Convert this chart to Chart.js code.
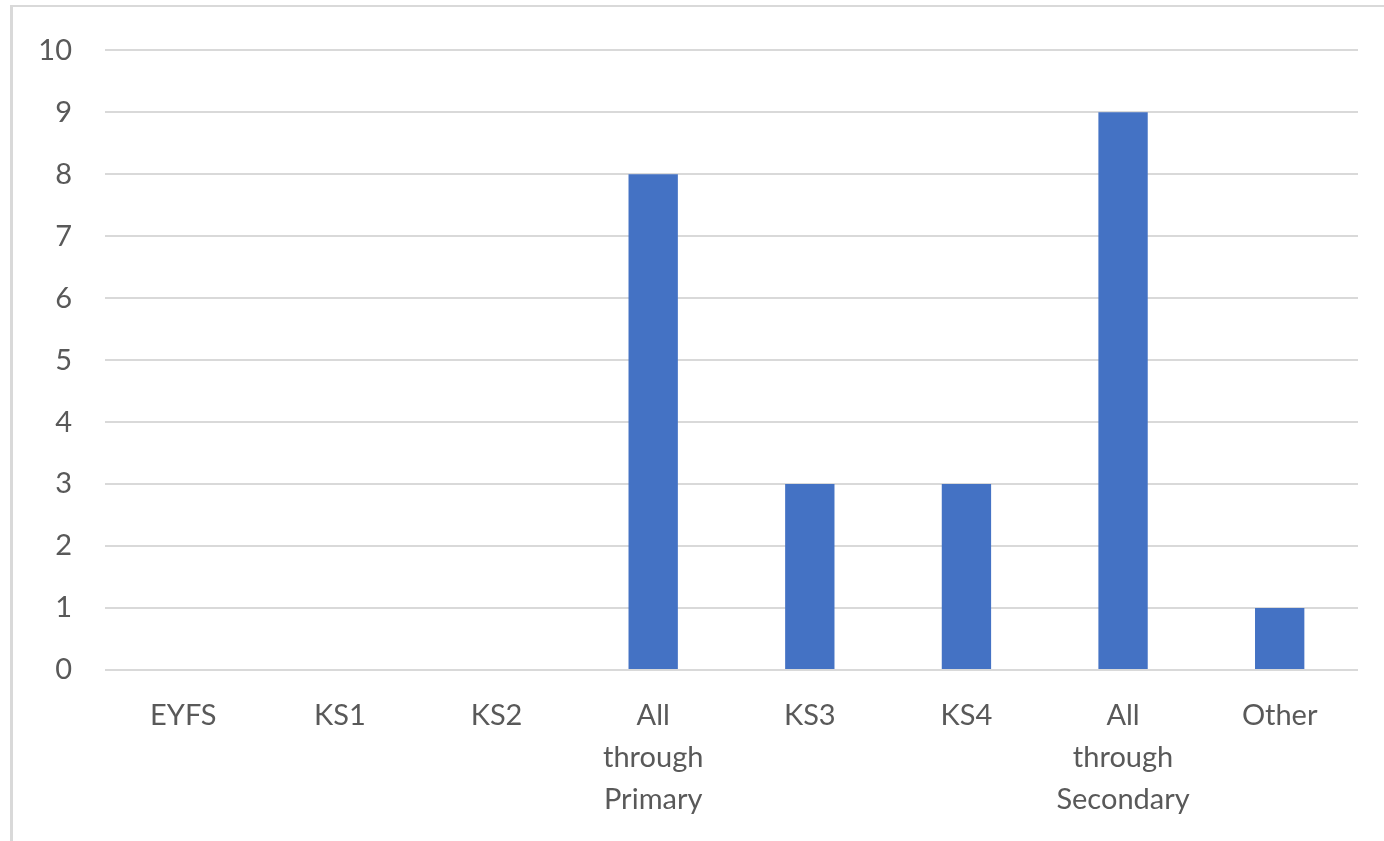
<!DOCTYPE html>
<html>
<head>
<meta charset="utf-8">
<script src="https://cdn.jsdelivr.net/npm/chart.js@4.4.1/dist/chart.umd.min.js"></script>
<style>
  html, body { margin: 0; padding: 0; background: #ffffff; }
  #wrap { position: relative; width: 1384px; height: 841px; overflow: hidden; }
  #frame {
    position: absolute; left: 10px; top: 5px; width: 1500px; height: 900px;
    border-left: 3px solid #d9d9d9; border-top: 2px solid #d9d9d9;
  }
  #c { position: absolute; left: 0; top: 0; }
</style>
</head>
<body>
<div id="wrap">
  <div id="frame"></div>
  <canvas id="c" width="1384" height="841"></canvas>
</div>
<script>
// Number of responses per school phase
const categories = [
  'EYFS', 'KS1', 'KS2', ['All', 'through', 'Primary'],
  'KS3', 'KS4', ['All', 'through', 'Secondary'], 'Other'
];
const counts = [0, 0, 0, 8, 3, 3, 9, 1];
const yTicks = [0, 1, 2, 3, 4, 5, 6, 7, 8, 9, 10];

const textColor = '#595959';
const gridColor = '#d9d9d9';
const labelFont = { family: 'Lato, "Open Sans", sans-serif', size: 29, lineHeight: 1.45 };

new Chart(document.getElementById('c'), {
  type: 'bar',
  data: {
    labels: categories,
    datasets: [{
      data: counts,
      backgroundColor: '#4472c4',
      borderWidth: 0,
      barPercentage: 1,
      categoryPercentage: 0.315
    }]
  },
  options: {
    responsive: false,
    animation: false,
    devicePixelRatio: 1,
    layout: { padding: { left: 0, right: 26, top: 48, bottom: 0 } },
    plugins: { legend: { display: false }, tooltip: { enabled: false } },
    scales: {
      x: {
        grid: { display: false, drawTicks: false },
        border: { display: false },
        ticks: { color: textColor, font: labelFont, padding: 25, maxRotation: 0, autoSkip: false },
        afterFit: (s) => { s.height = 171; }
      },
      y: {
        min: 0, max: 10,
        afterBuildTicks: (s) => { s.ticks = yTicks.map(v => ({ value: v })); },
        grid: { color: gridColor, lineWidth: 2, drawTicks: false },
        border: { display: false },
        ticks: { color: textColor, font: { family: labelFont.family, size: 29 }, padding: 33 },
        afterFit: (s) => { s.width = 105; }
      }
    }
  }
});
</script>
</body>
</html>
